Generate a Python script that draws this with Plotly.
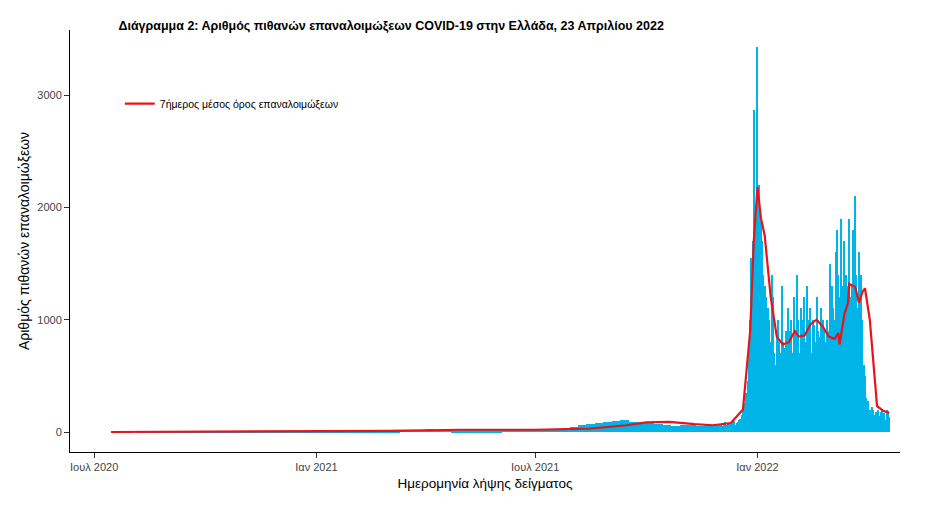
import pandas as pd
import plotly.graph_objects as go

# weekly bars for the quiet period (Jul 2020 - Nov 2021)
early_start = "2020-07-13"
early_vals = [0, 0, 1, 0, 1, 2, 1, 1, 2, 2, 3, 2, 2, 3, 4, 3, 4, 5, 4, 5, 4, 5, 6,
              7, 6, 8, 9, 10, 12, 10, 11, 14, 15, 13, 16, 18, 20, 22, 25, 20, 18, 17,
              16, 15, 14, 15, 16, 18, 20, 18, 22, 25, 28, 30, 35, 45, 60, 70, 80, 85,
              95, 110, 90, 85, 80, 70, 60, 55, 60, 60, 55, 60, 65]

# daily values Dec 2021 - Apr 2022
daily_start = "2021-12-01"
daily_vals = [60, 70, 55, 80, 90, 50, 65, 75, 80, 60, 70, 90, 100, 65, 80, 90, 110, 120, 150, 200,
              260, 180, 350, 450, 700, 1000, 1550, 1700, 2870, 1600, 2000,
              3430, 2200, 1500, 1900, 1700, 1400, 1300, 1200, 900, 1100, 1000, 800, 1400, 1200, 700,
              600, 900, 1000, 800, 700, 1300, 800, 750, 650, 900, 1100, 800, 900, 1000, 700, 1200,
              900, 800, 1400, 1000, 700, 1100, 950, 1000, 1200, 800, 1300, 1000, 900, 1100, 700,
              1000, 950, 800, 1200, 900, 850, 700, 1100, 1000, 900, 750, 800, 1000,
              900, 1500, 1200, 1300, 1100, 1000, 1600, 1800, 1400, 1200, 1900, 1300, 1000, 1700,
              1400, 1300, 1100, 1900, 1200, 1300, 1800, 1300, 2100, 1400, 1100, 1600, 1300, 1400,
              1000, 600, 500,
              300, 250, 280, 200, 170, 220, 200, 150, 180, 160, 200, 140, 180, 190, 150, 170,
              110, 200, 190, 130]

# 7-day average
avg_dates = ["2020-07-15", "2020-10-01", "2021-01-01", "2021-03-01", "2021-05-01", "2021-07-01",
             "2021-08-15", "2021-09-15", "2021-10-01", "2021-10-20", "2021-11-10", "2021-11-25",
             "2021-12-10", "2021-12-20", "2021-12-26", "2021-12-29", "2022-01-01", "2022-01-04",
             "2022-01-07", "2022-01-12", "2022-01-17", "2022-01-22", "2022-01-27", "2022-02-01",
             "2022-02-04", "2022-02-09", "2022-02-14", "2022-02-19", "2022-02-24", "2022-03-01",
             "2022-03-06", "2022-03-09", "2022-03-10", "2022-03-14", "2022-03-17", "2022-03-18",
             "2022-03-23", "2022-03-26", "2022-03-29", "2022-03-31", "2022-04-04", "2022-04-08",
             "2022-04-10", "2022-04-15", "2022-04-20"]
avg_vals = [0, 2, 5, 10, 20, 20, 30, 60, 85, 90, 70, 60, 80, 200, 900, 1700, 2180, 1900, 1750,
            1200, 850, 780, 800, 900, 850, 860, 960, 1000, 940, 850, 830, 880, 780, 1050, 1150,
            1320, 1290, 1150, 1250, 1280, 1000, 500, 230, 190, 170]

early_x = pd.date_range(early_start, periods=len(early_vals), freq="7D")
daily_x = pd.date_range(daily_start, periods=len(daily_vals), freq="D")
day_ms = 86400000
blue = "#00b4e8"

fig = go.Figure()
fig.add_trace(go.Bar(x=early_x, y=early_vals, width=7 * day_ms, marker_color=blue,
                     marker_line_width=0, showlegend=False))
fig.add_trace(go.Bar(x=daily_x, y=daily_vals, width=day_ms, marker_color=blue,
                     marker_line_width=0, showlegend=False))
fig.add_trace(go.Scatter(x=pd.to_datetime(avg_dates), y=avg_vals, mode="lines",
                         line=dict(color="#e8141b", width=2.2),
                         name="7ήμερος μέσος όρος επαναλοιμώξεων"))

fig.update_layout(
    width=952, height=517, plot_bgcolor="white", paper_bgcolor="white",
    font=dict(family="Liberation Sans, Arial", size=11, color="#444"),
    margin=dict(l=62, r=60, t=22, b=73), bargap=0, barmode="overlay",
    title=dict(text="<b>Διάγραμμα 2: Αριθμός πιθανών επαναλοιμώξεων COVID-19 στην Ελλάδα, 23 Απριλίου 2022</b>",
               x=0.116, xanchor="left", y=0.975, font=dict(size=12.5, color="black")),
    legend=dict(x=0.06, y=0.86, bgcolor="rgba(0,0,0,0)", font=dict(size=10.5, color="black")),
)
fig.update_xaxes(range=["2020-06-11", "2022-04-29"], showline=True, linecolor="black",
                 ticks="outside", tickcolor="#333",
                 tickvals=["2020-07-01", "2021-01-01", "2021-07-01", "2022-01-01"],
                 ticktext=["Ιουλ 2020", "Ιαν 2021", "Ιουλ 2021", "Ιαν 2022"],
                 title=dict(text="Ημερομηνία λήψης δείγματος", font=dict(size=13.5, color="black"), standoff=6))
fig.update_yaxes(range=[-178, 3580], showline=True, linecolor="black", showgrid=False,
                 zeroline=False, ticks="outside", tickcolor="#333",
                 tickvals=[0, 1000, 2000, 3000],
                 title=dict(text="Αριθμός πιθανών επαναλοιμώξεων", font=dict(size=14, color="black"), standoff=4))
fig.write_html("out.html")
